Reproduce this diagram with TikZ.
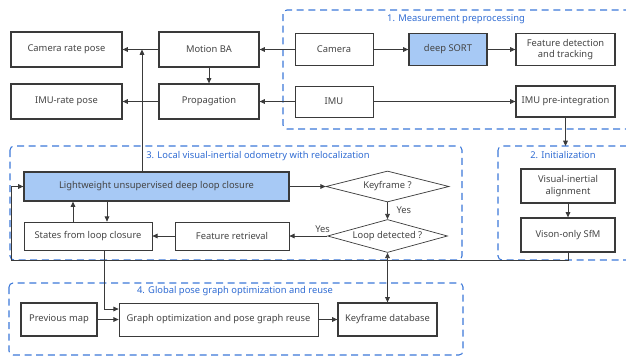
\documentclass[tikz,border=0pt]{standalone}
\usepackage{fontspec}
\setmainfont{Noto Sans}
\usetikzlibrary{arrows.meta, shapes.geometric}
\definecolor{lnblue}{HTML}{3C78D8}
\definecolor{ttblue}{HTML}{2F6BD2}
\definecolor{boxfill}{HTML}{A7C9F5}
\definecolor{dkgray}{HTML}{3A3A3A}
\definecolor{txgray}{HTML}{444444}

\begin{document}
\begin{tikzpicture}[x=0.3mm, y=-0.3mm, >={Triangle[length=4.5pt, width=4pt]},
  font=\fontsize{8}{9.5}\selectfont, text=txgray,
  box/.style={draw=dkgray, line width=1.1pt, inner sep=1pt, align=center},
  thinbox/.style={draw=dkgray, line width=0.6pt, inner sep=1pt, align=center},
  dia/.style={draw=dkgray, line width=0.6pt, diamond, shape aspect=4, inner sep=0pt},
  grp/.style={draw=lnblue, line width=0.9pt, dash pattern=on 2.1mm off 1.4mm, rounded corners=1.2mm},
  grptitle/.style={text=ttblue},
  arr/.style={draw=dkgray, line width=0.7pt, ->}]

\useasboundingbox (0,0) rectangle (626,356);

% Dashed groups
\draw[grp] (283,10) rectangle (640,129);
\draw[grp] (498,146) rectangle (640,260);
\draw[grp] (10,146) rectangle (462,260);
\draw[grp] (9,283) rectangle (463,355);

\node[grptitle] (t1) at (456,19) {1. Measurement preprocessing};
\node[grptitle] (t2) at (563,155) {2. Initialization};
\node[grptitle] (t3) at (258,156) {3. Local visual-inertial odometry with relocalization};
\node[grptitle] (t4) at (235,291) {4. Global pose graph optimization and reuse};

% Output poses
\node[box, minimum width=33.3mm, minimum height=10.5mm] (crp) at (66.5,49.5) {Camera rate pose};
\node[box, minimum width=33.3mm, minimum height=10.5mm] (irp) at (66.5,101.5) {IMU-rate pose};
\node[box, minimum width=30mm, minimum height=10.5mm] (mba) at (209,49.5) {Motion BA};
\node[box, minimum width=30mm, minimum height=10.5mm] (prop) at (209,101.5) {Propagation};

% Measurement preprocessing
\node[thinbox, minimum width=23.4mm, minimum height=9.6mm] (cam) at (334,49.5) {Camera};
\node[box, fill=boxfill, minimum width=23.4mm, minimum height=9.6mm] (sort) at (448,49.5) {deep SORT};
\node[box, minimum width=29.7mm, minimum height=9.6mm] (fdt) at (565.5,49.5) {Feature detection\\and tracking};
\node[thinbox, minimum width=23.4mm, minimum height=9.3mm] (imu) at (334,101.5) {IMU};
\node[box, minimum width=29.7mm, minimum height=9.3mm] (imupre) at (565.5,101.5) {IMU pre-integration};

% Initialization
\node[box, minimum width=28.2mm, minimum height=10.2mm] (via) at (568,186) {Visual-inertial\\alignment};
\node[box, minimum width=28.2mm, minimum height=10.2mm] (sfm) at (568,235) {Vison-only SfM};

% Local VIO with relocalization
\node[box, fill=boxfill, minimum width=79.5mm, minimum height=8.7mm] (lw) at (156.5,186.5) {Lightweight unsupervised deep loop closure};
\node[dia, minimum width=36.9mm, minimum height=9.3mm] (kf) at (387.5,186.5) {Keyframe ?};
\node[dia, minimum width=36mm, minimum height=9.9mm] (ld) at (387.5,236) {Loop detected ?};
\node[thinbox, minimum width=38.4mm, minimum height=8.4mm] (slc) at (88,236) {States from loop closure};
\node[thinbox, minimum width=34.2mm, minimum height=8.4mm] (fr) at (232,236) {Feature retrieval};

% Global pose graph
\node[box, minimum width=22.8mm, minimum height=9.9mm] (pm) at (59,319.5) {Previous map};
\node[thinbox, minimum width=59.7mm, minimum height=9.9mm] (go) at (218.5,319.5) {Graph optimization and pose graph reuse};
\node[box, minimum width=29.7mm, minimum height=9.9mm] (kfdb) at (387.5,319.5) {Keyframe database};

% Connectors
\draw[arr] (mba) -- (crp);
\draw[arr] (prop) -- (irp);
\draw[arr] (mba) -- (prop);
\draw[arr] (cam) -- (mba);
\draw[arr] (imu) -- (prop);
\draw[arr] (cam) -- (sort);
\draw[arr] (sort) -- (fdt);
\draw[arr] (imu) -- (imupre);
\coordinate (g2top) at (568,146);
\draw[arr] (imupre.south) -- (imupre.south |- g2top);
\draw[arr] (via) -- (sfm);

\coordinate (lwup) at (142,172);
\draw[arr] (lwup) -- (lwup |- crp.east);
\draw[arr] (lw) -- (kf);
\draw[arr] (kf) -- (ld) node[pos=0.45, right=4pt] (yes1) {Yes};
\draw[arr] (ld) -- (fr) node[pos=0.12, above=-1pt] (yes2) {Yes};
\draw[arr] (fr) -- (slc);
\coordinate (su) at (73,222);
\coordinate (sd) at (107,201);
\draw[arr] (su) -- (su |- lw.south);
\draw[arr] (sd) -- (sd |- slc.north);

% Feedback from initialization
\coordinate (lp) at (11,260);
\draw[arr] (sfm.south) -- (sfm.south |- lp) -- (lp) |- (lw.west);

\draw[arr, <->] (ld.south) -- (kfdb.north);
\draw[arr] ([xshift=4.8mm]slc.south) |- ([yshift=3.15mm]go.west);
\draw[arr] (pm) -- (go);
\draw[arr] (go) -- (kfdb);

\end{tikzpicture}
\end{document}
